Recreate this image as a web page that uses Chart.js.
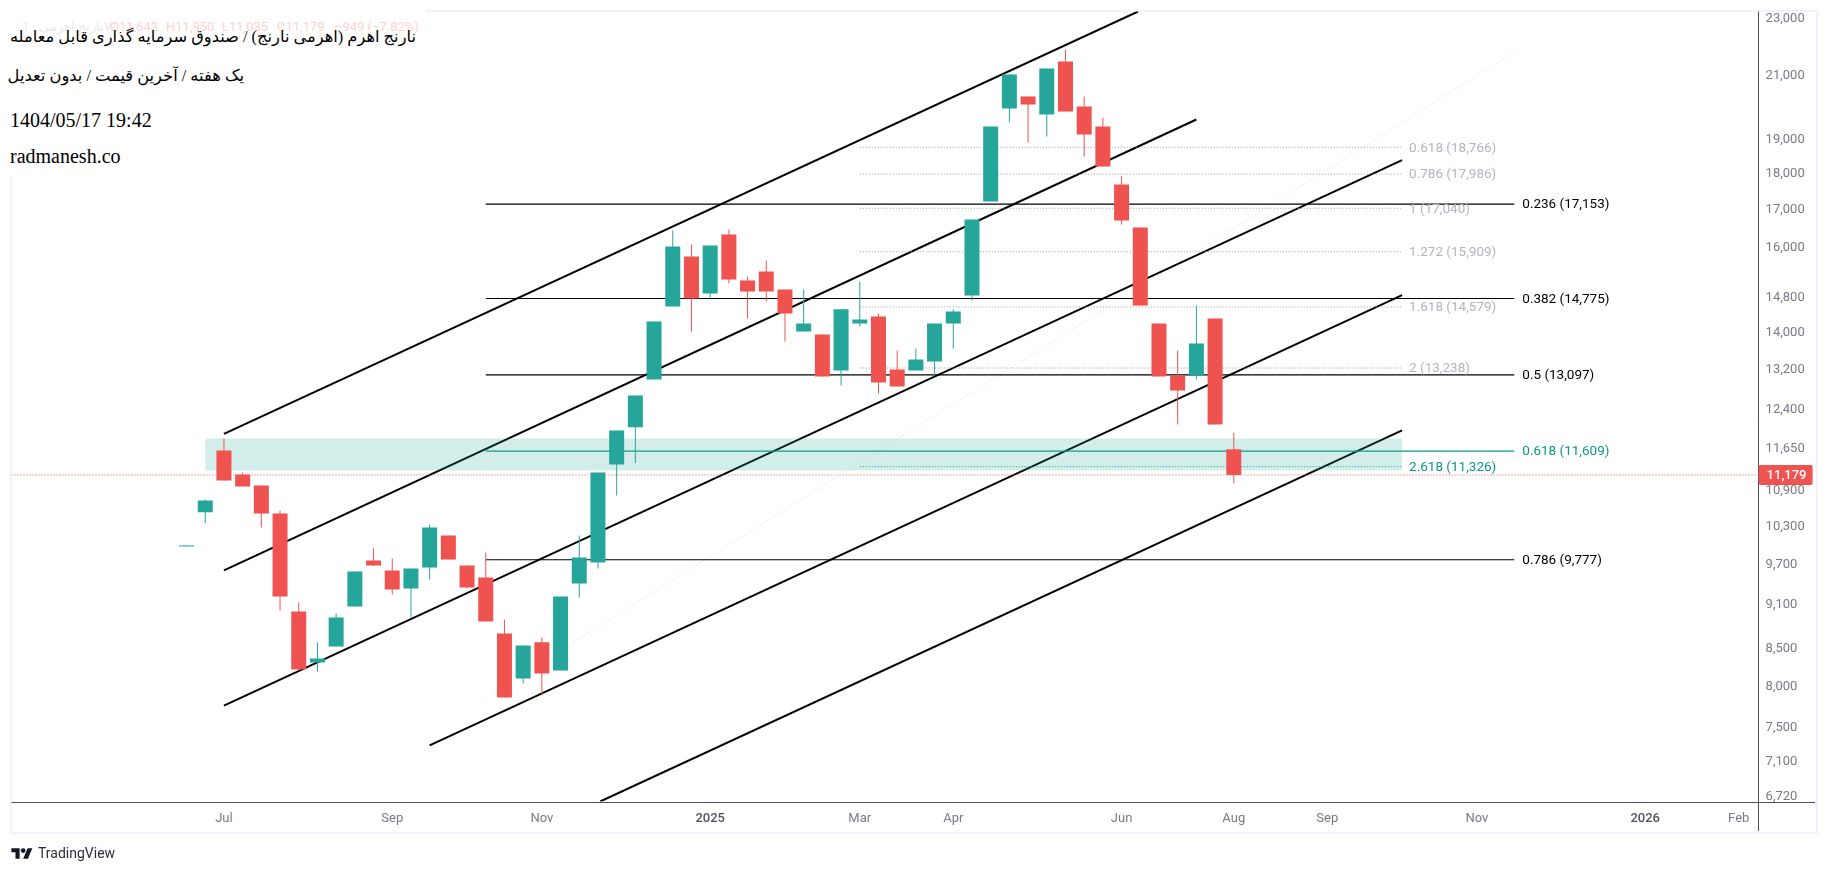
<!DOCTYPE html>
<html lang="fa">
<head>
<meta charset="utf-8">
<title>نارنج اهرم</title>
<script src="https://cdn.jsdelivr.net/npm/chart.js@4"></script>
<style>
  html, body { margin: 0; padding: 0; background: #fff; overflow: hidden; }
  #frame { position: absolute; left: 10px; top: 10px; width: 1804px; height: 820px; border: 2px solid #f0f3fa; }
  canvas { position: absolute; left: 0; top: 0; }
  #cover { position: absolute; left: 0; top: 0; width: 426px; height: 176px; background: #fff; }
  .ghost { position: absolute; top: 19px; font: 13px Roboto, sans-serif; white-space: nowrap; color: #e8e8ea; }
  .ghost.red { color: #fbd3d1; }
  .note { position: absolute; left: 10px; color: #000; white-space: nowrap; font-family: "Liberation Serif", "DejaVu Sans", serif; }
  #brand { position: absolute; left: 11px; top: 845px; display: flex; align-items: center; gap: 5px; font: 14px Roboto, sans-serif; color: #2a2e39; }
</style>
</head>
<body>
<div id="frame"></div>
<canvas id="chart" width="1827" height="871"></canvas>
<div id="cover"></div>
<span class="ghost" style="left:22px">نارنج اهرمی · 1W</span>
<span class="ghost red" style="left:110px">O11,643</span>
<span class="ghost red" style="left:166px">H11,950</span>
<span class="ghost red" style="left:222px">L11,035</span>
<span class="ghost red" style="left:277px">C11,179</span>
<span class="ghost red" style="left:335px">−949 (−7.82%)</span>
<div class="note" dir="rtl" style="top:27px;width:406px;font-size:16.3px;text-align:right">نارنج اهرم (اهرمی نارنج) / صندوق سرمایه گذاری قابل معامله</div>
<div class="note" dir="rtl" style="top:66px;width:234px;font-size:16.3px;text-align:right">یک هفته / آخرین قیمت / بدون تعدیل</div>
<div class="note" style="top:109px;font-size:20px">1404/05/17 19:42</div>
<div class="note" style="top:145px;font-size:20px">radmanesh.co</div>
<div id="brand">
  <svg width="22" height="13" viewBox="0 2 36 22"><path fill="#131722" d="M14 22H7V11H0V4h14v18zM28 22h-8l7.5-18h8L28 22z"/><circle fill="#131722" cx="20" cy="8" r="4"/></svg>
  <span>TradingView</span>
</div>

<script>
const weeks = [0, 1, 2, 3, 4, 5, 6, 7, 8, 9, 10, 11, 12, 13, 14, 15, 16, 17, 18, 19, 20, 21, 22, 23, 24, 25, 26, 27, 28,
  29, 30, 31, 32, 33, 34, 35, 36, 37, 38, 39, 40, 41, 42, 43, 44, 45, 46, 47, 48, 49, 50, 51, 52, 53, 54, 55, 56];

const opens = [9985, 10541, 11620, 11186, 10995, 10519, 9009, 8311, 8523, 9081, 9766, 9613, 9343, 9658, 10159, 9689,
  9507, 8702, 8103, 8580, 8207, 9417, 9736, 11366, 12056, 13000, 14590, 15791, 14893, 16348, 15203, 15420, 14988,
  14024, 13958, 13187, 14204, 14361, 13208, 13187, 13376, 14204, 14846, 17224, 19950, 20334, 19763, 21489, 20014,
  19391, 17692, 16532, 14204, 13083, 13083, 14316, 11643];
const highs = [10000, 10754, 11842, 11222, 10995, 10568, 9138, 8580, 8981, 9598, 9953, 9797, 9643, 10338, 10159, 9689,
  9890, 8896, 8537, 8647, 9225, 10159, 11224, 11994, 12676, 14249, 16451, 16091, 16066, 16477, 15300, 15689, 14988,
  14988, 13958, 14524, 15178, 14428, 13610, 13653, 14204, 14524, 16741, 19391, 21053, 20334, 21252, 21899, 20334,
  19669, 17921, 16532, 14204, 13610, 14613, 14316, 11950];
const lows = [9985, 10359, 11082, 10978, 10289, 9023, 8220, 8194, 8523, 9081, 9689, 9255, 8925, 9477, 9782, 9343,
  8868, 7863, 8039, 7888, 8207, 9210, 9643, 10821, 11391, 13000, 14590, 14024, 14775, 15130, 14316, 14706, 13805,
  14024, 13063, 12877, 14136, 12717, 12857, 13187, 13083, 13653, 14729, 17224, 19514, 18907, 19087, 19853, 18494,
  18203, 16611, 14613, 13063, 12107, 13000, 12107, 11035];
const closes = [10000, 10737, 11082, 10978, 10519, 9225, 8220, 8364, 8925, 9598, 9689, 9329, 9643, 10289, 9782, 9358,
  8868, 7863, 8537, 8168, 9225, 9812, 11224, 11994, 12676, 14249, 16041, 14775, 16066, 15227, 14940, 14940, 14428,
  14204, 13063, 14524, 14293, 12938, 12857, 13418, 14204, 14474, 16741, 19391, 21053, 20077, 21252, 19853, 19147,
  18203, 16715, 14613, 13063, 12777, 13761, 12107, 11179];

const xTickWeeks = [2, 11, 19, 28, 36, 41, 50, 56, 61, 69, 78, 83];
const xTickLabels = ["Jul", "Sep", "Nov", "2025", "Mar", "Apr", "Jun", "Aug", "Sep", "Nov", "2026", "Feb"];
const yTickValues = [23000, 21000, 19000, 18000, 17000, 16000, 14800, 14000, 13200, 12400, 11650, 10900, 10300, 9700,
  9100, 8500, 8000, 7500, 7100, 6720];

const channelA = [[2, 11930], [50.88, 23256]];
const channelB = [[2, 9613], [54, 19607]];
const channelC = [[2, 7764], [65, 18386]];
const channelD = [[13, 7291], [65, 14853]];
const channelE = [[22.12, 6672], [65, 11994]];
const faintTrend = [[16, 7867], [71, 21807]];

const fibLevels = [0.236, 0.382, 0.5, 0.618, 0.786];
const fibPrices = [17153, 14775, 13097, 11609, 9777];
const fibRange = [16, 71];
const extLevels = [0.618, 0.786, 1, 1.272, 1.618, 2, 2.618];
const extPrices = [18766, 17986, 17040, 15909, 14579, 13238, 11326];
const extRange = [36, 65];
const zoneRange = [1, 65];
const zonePrices = [11842, 11260];
const lastPrice = 11179;

const RED = "#ef5350";
const TEAL = "#26a69a";
const GREEN = "#089981";
const xMin = -9.36;
const xMax = 84.01;

const toPoints = (pairs) => pairs.map(([x, y]) => ({ x, y }));
const barColors = closes.map((c, i) => (c >= opens[i] ? TEAL : RED));
const isGreen = (price) => price === 11609 || price === 11326;

const lineSet = (points, color, width, dash, order) => ({
  type: "line",
  data: points,
  borderColor: color,
  borderWidth: width,
  borderDash: dash,
  pointRadius: 0,
  tension: 0,
  fill: false,
  order
});

const datasets = [
  {
    type: "bar",
    data: weeks.map((w, i) => ({ x: w, y: [opens[i], closes[i]] })),
    backgroundColor: barColors,
    barThickness: 15,
    inflateAmount: 0,
    grouped: false,
    order: 1
  },
  {
    type: "bar",
    data: weeks.map((w, i) => ({ x: w, y: [lows[i], highs[i]] })),
    backgroundColor: barColors,
    barThickness: 1,
    inflateAmount: 0,
    grouped: false,
    order: 2
  },
  {
    type: "line",
    data: zoneRange.map((x) => ({ x, y: zonePrices[0] })),
    borderWidth: 0,
    pointRadius: 0,
    backgroundColor: "rgba(34, 171, 148, 0.2)",
    fill: "+1",
    order: 3
  },
  {
    type: "line",
    data: zoneRange.map((x) => ({ x, y: zonePrices[1] })),
    borderWidth: 0,
    pointRadius: 0,
    fill: false,
    order: 3
  },
  lineSet(toPoints([[xMin, lastPrice], [xMax, lastPrice]]), RED, 1, [1, 2], 4)
];

fibPrices.forEach((p) => {
  datasets.push(lineSet(fibRange.map((x) => ({ x, y: p })), isGreen(p) ? GREEN : "#000", 1.2, [], 5));
});
extPrices.forEach((p) => {
  datasets.push(lineSet(extRange.map((x) => ({ x, y: p })), isGreen(p) ? GREEN : "#9598a1", 1, [1, 2], 5));
});
[channelA, channelB, channelC, channelD, channelE].forEach((c) => {
  datasets.push(lineSet(toPoints(c), "#000", 2, [], 6));
});
datasets.push(lineSet(toPoints(faintTrend), "rgba(178, 181, 190, 0.3)", 1, [2, 2], 7));

const overlayPlugin = {
  id: "overlay",
  afterDraw(chart) {
    const { ctx, scales, chartArea } = chart;
    const label = (text, x, price, color) => {
      ctx.fillStyle = color;
      ctx.fillText(text, x, scales.y.getPixelForValue(price) + 1);
    };

    ctx.save();
    ctx.font = "13.5px Roboto";
    ctx.textBaseline = "middle";
    ctx.textAlign = "left";
    extPrices.forEach((p, i) => {
      const text = extLevels[i] + " (" + p.toLocaleString("en-US") + ")";
      label(text, scales.x.getPixelForValue(extRange[1]) + 7, p, isGreen(p) ? GREEN : "#b2b5be");
    });
    fibPrices.forEach((p, i) => {
      const text = fibLevels[i] + " (" + p.toLocaleString("en-US") + ")";
      label(text, scales.x.getPixelForValue(fibRange[1]) + 8, p, isGreen(p) ? GREEN : "#000");
    });

    // axis lines run on past the plot area
    ctx.strokeStyle = "#50535e";
    ctx.lineWidth = 1;
    ctx.beginPath();
    ctx.moveTo(chartArea.left, Math.round(chartArea.bottom) + 0.5);
    ctx.lineTo(1815, Math.round(chartArea.bottom) + 0.5);
    ctx.moveTo(Math.round(chartArea.right) + 0.5, chartArea.top);
    ctx.lineTo(Math.round(chartArea.right) + 0.5, 831);
    ctx.stroke();

    // last price tag
    const tagY = scales.y.getPixelForValue(lastPrice);
    ctx.fillStyle = RED;
    ctx.beginPath();
    ctx.roundRect(chartArea.right + 1, tagY - 10, 54, 20, 2);
    ctx.fill();
    ctx.fillStyle = "#fff";
    ctx.font = "500 13px Roboto";
    ctx.fillText(lastPrice.toLocaleString("en-US"), chartArea.right + 9, tagY + 0.5);
    ctx.restore();
  }
};

new Chart(document.getElementById("chart"), {
  data: { datasets },
  plugins: [overlayPlugin],
  options: {
    responsive: false,
    animation: false,
    layout: { padding: { left: 11.5, top: 11.5, right: 0, bottom: 0 } },
    plugins: { legend: { display: false }, tooltip: { enabled: false } },
    scales: {
      x: {
        type: "linear",
        min: xMin,
        max: xMax,
        offset: false,
        grid: { display: false, drawTicks: false },
        border: { display: false },
        afterBuildTicks: (scale) => { scale.ticks = xTickWeeks.map((value) => ({ value })); },
        afterFit: (scale) => {
          scale.height = 69.5;
          scale.paddingLeft = 0;
          scale.paddingRight = 0;
        },
        ticks: {
          autoSkip: false,
          maxRotation: 0,
          padding: 9,
          font: (ctx) => ({ family: "Roboto", size: 13, weight: /^20/.test(ctx.tick && ctx.tick.label) ? "500" : "400" }),
          color: (ctx) => (/^20/.test(ctx.tick && ctx.tick.label) ? "#50535e" : "#787b86"),
          callback: (value, index) => xTickLabels[index]
        }
      },
      y: {
        type: "logarithmic",
        position: "right",
        min: 6672,
        max: 23256,
        grid: { display: false, drawTicks: false },
        border: { display: false },
        afterBuildTicks: (scale) => { scale.ticks = yTickValues.map((value) => ({ value })); },
        afterFit: (scale) => {
          scale.width = 69.4;
          scale.paddingTop = 0;
          scale.paddingBottom = 0;
        },
        ticks: {
          autoSkip: false,
          padding: 8,
          font: { family: "Roboto", size: 13 },
          color: "#787b86",
          callback: (value) => value.toLocaleString("en-US")
        }
      }
    }
  }
});
</script>
</body>
</html>
